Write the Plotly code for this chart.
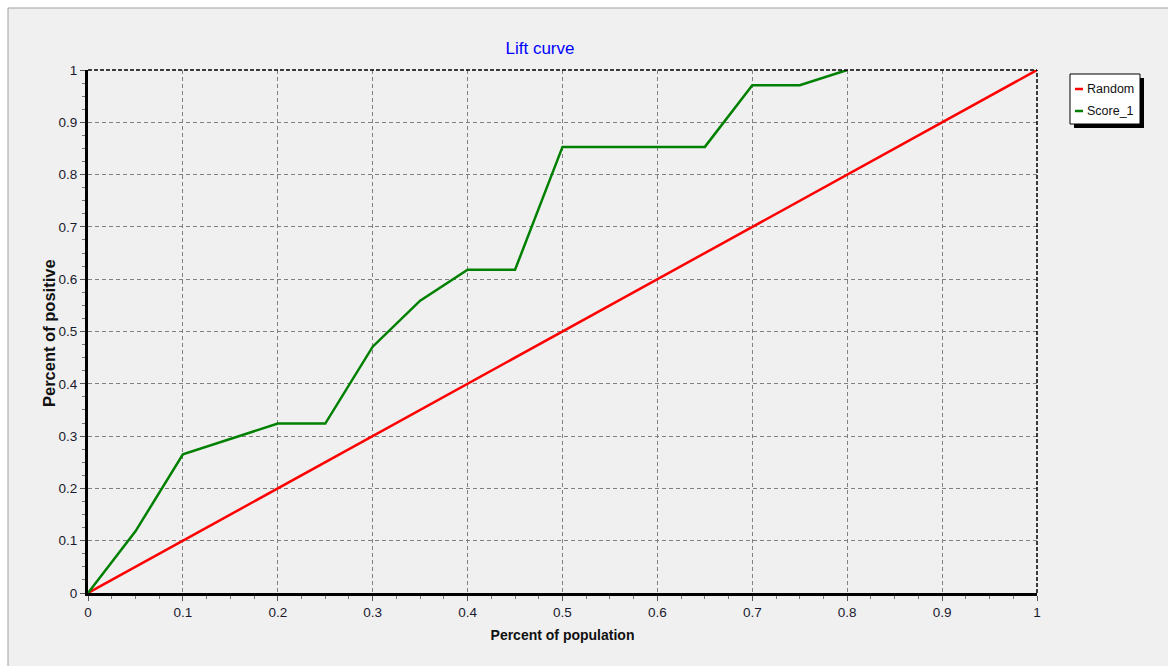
import plotly.graph_objects as go

# ---- data ----
random_x = [0.0, 1.0]
random_y = [0.0, 1.0]
score_x = [0.0, 0.05, 0.1, 0.15, 0.2, 0.25, 0.3, 0.35, 0.4, 0.45, 0.5, 0.55, 0.6, 0.65, 0.7, 0.75, 0.8]
score_y = [0.0, 0.118, 0.265, 0.294, 0.324, 0.324, 0.471, 0.559, 0.618, 0.618, 0.853, 0.853, 0.853, 0.853, 0.971, 0.971, 1.0]
tick_vals = [0, 0.1, 0.2, 0.3, 0.4, 0.5, 0.6, 0.7, 0.8, 0.9, 1]
tick_text = ["0", "0.1", "0.2", "0.3", "0.4", "0.5", "0.6", "0.7", "0.8", "0.9", "1"]
series_names = ["Random", "Score_1"]
series_colors = ["#ff0000", "#008000"]

# ---- layout geometry (pixels) ----
W, H = 1168, 666
L, R, T, B = 88, 1037, 70, 593
pw, ph = R - L, B - T

def px(x):
    return (x - L) / pw

def py(y):
    return (B - y) / ph

FONT = "Liberation Sans, Arial, sans-serif"

fig = go.Figure()
fig.add_trace(go.Scatter(x=random_x, y=random_y, mode="lines", name=series_names[0],
                         line=dict(color=series_colors[0], width=2.5), showlegend=False))
fig.add_trace(go.Scatter(x=score_x, y=score_y, mode="lines", name=series_names[1],
                         line=dict(color=series_colors[1], width=2.5), showlegend=False))

axis_common = dict(
    range=[0, 1], tickvals=tick_vals, ticktext=tick_text,
    showgrid=True, gridcolor="#808080", gridwidth=1, griddash="4px,3px",
    zeroline=False, showline=True, linecolor="black", linewidth=3,
    ticks="outside", ticklen=5, tickcolor="#555555", tickwidth=1,
    tickfont=dict(family=FONT, size=13.5, color="#1a1a2e"),
    minor=dict(dtick=0.025, ticks="outside", ticklen=3, tickcolor="#777777", showgrid=False),
    fixedrange=True,
)

fig.update_xaxes(**axis_common,
                 title=dict(text="<b>Percent of population</b>", font=dict(family=FONT, size=14, color="#111111"), standoff=11))
fig.update_yaxes(**axis_common)

shapes = [
    dict(type="rect", xref="paper", yref="paper", x0=px(8), x1=px(1190), y0=py(690), y1=py(8),
         line=dict(color="#a0a0a0", width=1), fillcolor="#f0f0f0", layer="below"),
    dict(type="line", xref="paper", yref="paper", x0=0, x1=1, y0=1, y1=1,
         line=dict(color="black", width=1.5, dash="4px,2px"), layer="above"),
    dict(type="line", xref="paper", yref="paper", x0=1, x1=1, y0=0, y1=1,
         line=dict(color="black", width=1.5, dash="4px,2px"), layer="above"),
    dict(type="rect", xref="paper", yref="paper", x0=px(1074), x1=px(1144), y0=py(128), y1=py(78),
         line=dict(width=0), fillcolor="black", layer="above"),
    dict(type="rect", xref="paper", yref="paper", x0=px(1070), x1=px(1140), y0=py(124), y1=py(74),
         line=dict(color="black", width=1), fillcolor="white", layer="above"),
]
annotations = [
    dict(text="<b>Percent of positive</b>", xref="paper", yref="paper", x=px(49), y=py(333),
         textangle=-90, xanchor="center", yanchor="middle", showarrow=False,
         font=dict(family=FONT, size=16.5, color="#111111")),
]
for i, (name, col) in enumerate(zip(series_names, series_colors)):
    yy = 89 + i * 22
    shapes.append(dict(type="line", xref="paper", yref="paper", x0=px(1075), x1=px(1083),
                       y0=py(yy), y1=py(yy), line=dict(color=col, width=2.5), layer="above"))
    annotations.append(dict(text=name, xref="paper", yref="paper", x=px(1085), y=py(yy),
                            xanchor="left", yanchor="middle", showarrow=False,
                            font=dict(family=FONT, size=12.5, color="#111111")))

fig.update_layout(
    width=W, height=H,
    margin=dict(l=L, r=W - R, t=T, b=H - B, pad=0),
    paper_bgcolor="white", plot_bgcolor="#f0f0f0",
    title=dict(text="Lift curve", x=px(540), xref="paper", xanchor="center",
               y=1 - 48 / H, yref="container", yanchor="middle",
               font=dict(family=FONT, size=17, color="#0000ff")),
    shapes=shapes, annotations=annotations, showlegend=False,
)

fig.write_html("out.html", config={"displayModeBar": False},
               post_script="document.body.style.margin='0';document.body.style.overflow='hidden';")
